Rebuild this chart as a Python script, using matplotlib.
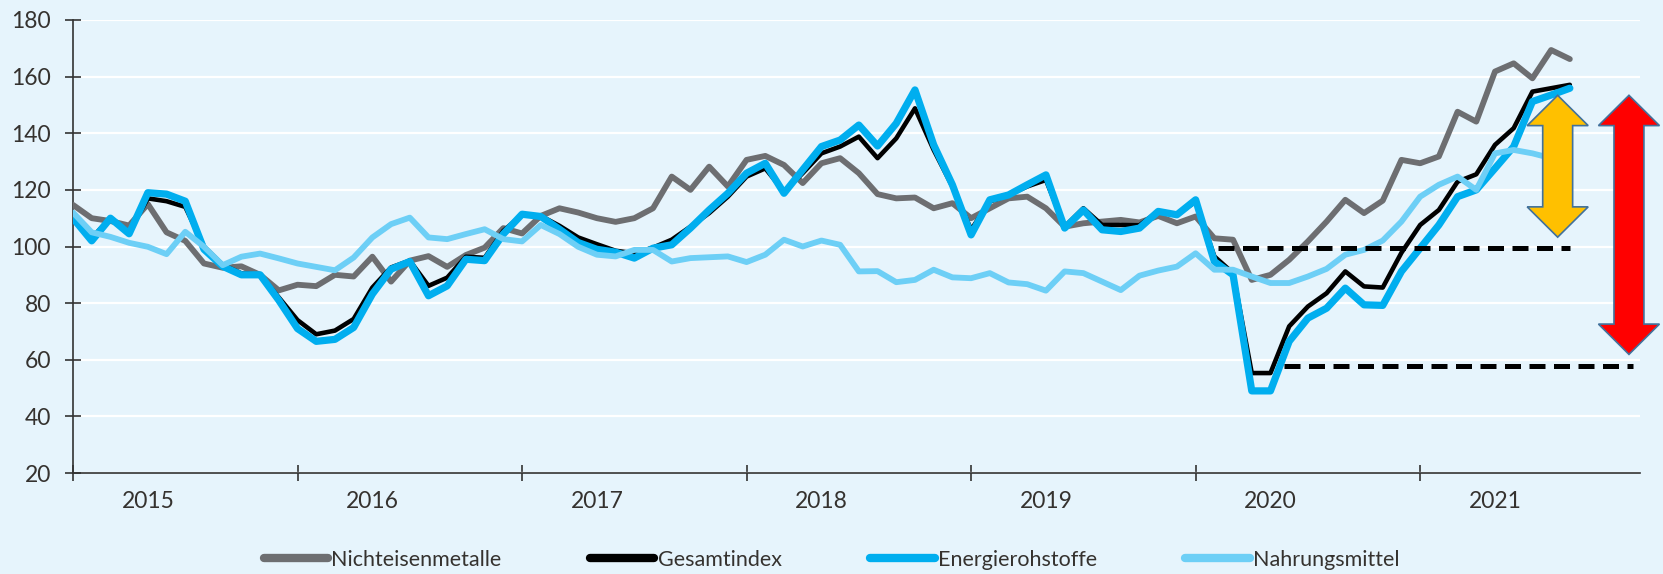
import matplotlib
matplotlib.use("Agg")
import matplotlib.pyplot as plt
from matplotlib.lines import Line2D
from matplotlib.patches import Polygon
import numpy as np

# ---------------- data (monthly index values, Jan 2015 .. Sep 2021) ----------------
nichteisenmetalle = [114.7, 110, 109, 107.4, 115, 105, 102, 94, 92.5, 93, 90, 84.5,
                     86.5, 86, 90, 89.4, 96.4, 87.6, 95, 96.6, 92.8, 97, 99.6, 106.5,
                     104.6, 110.8, 113.5, 112, 110, 108.7, 110, 113.5, 124.7, 120, 128.2, 121.2,
                     130.6, 132, 128.8, 122.4, 129.4, 131.2, 125.9, 118.5, 117, 117.3, 113.5, 115.3,
                     110, 113.5, 117, 117.6, 113.5, 107, 108.2, 108.8, 109.4, 108.5, 110.8, 108.2,
                     110.6, 102.9, 102.4, 88.2, 90, 95.3, 101.8, 108.8, 116.5, 111.8, 116.2, 130.6,
                     129.4, 131.8, 147.6, 144.1, 161.8, 164.7, 159.4, 169.4, 166.2]
gesamtindex = [110, 103, 110, 105, 117, 116, 114, 100, 93.5, 90.5, 90, 82,
               74, 69, 70.3, 74.4, 85.5, 92.6, 95, 86.1, 89, 96.4, 96, 105.5,
               111.2, 110.8, 107.3, 103.2, 100.8, 98.5, 97.6, 99.6, 102.4, 107, 111.8, 117.6,
               124.7, 127.6, 119.4, 125.9, 132.9, 135.3, 138.8, 131.2, 138.2, 148.8, 134.1, 121.2,
               105.9, 115.9, 118.2, 121.2, 123.5, 107, 113.5, 107.6, 107.6, 107.5, 112.4, 111.2,
               115.9, 96.5, 90.6, 55.3, 55.3, 71.8, 78.8, 83.5, 91.2, 85.9, 85.5, 97.8,
               107.6, 112.9, 122.9, 125.5, 135.9, 141.8, 154.7, 155.9, 157.1]
energierohstoffe = [110, 102, 110, 104.5, 119, 118.5, 116, 99, 93, 90, 90, 81,
                    71, 66.5, 67.2, 71.4, 83.2, 92, 94.7, 82.6, 86.1, 95.5, 95, 104.4,
                    111.4, 110.6, 106.1, 101.4, 99, 98, 95.9, 99.4, 100.6, 106.5, 112.9, 118.8,
                    125.9, 129.4, 118.8, 127.1, 135.3, 137.6, 142.9, 135.5, 143.5, 155.3, 135.9, 121.8,
                    104.1, 116.5, 118.2, 121.8, 125.3, 106.5, 112.9, 105.9, 105.3, 106.5, 112.4, 111.2,
                    116.5, 94.7, 90, 49, 49, 66.5, 74.7, 78.2, 85.3, 79.4, 79.2, 91.2,
                    99.4, 107.6, 117.6, 120, 127.6, 135.3, 151.2, 153.5, 155.9]
nahrungsmittel = [112, 105, 103.4, 101.3, 99.9, 97.3, 105.2, 99.9, 93.4, 96.4, 97.5, 95.8,
                  94, 92.8, 91.6, 96.1, 103.2, 107.9, 110.2, 103.2, 102.6, 104.4, 106.1, 102.6,
                  101.8, 107.6, 104.4, 99.9, 97.1, 96.5, 98.8, 98.8, 94.7, 95.9, 96.2, 96.5,
                  94.5, 97.1, 102.4, 100, 102.1, 100.6, 91.2, 91.3, 87.4, 88.2, 91.8, 89.1,
                  88.8, 90.6, 87.3, 86.7, 84.4, 91.2, 90.6, 87.6, 84.6, 89.7, 91.5, 92.9,
                  97.6, 91.8, 91.8, 89.4, 87.1, 87.1, 89.4, 92.1, 97.1, 98.8, 102.1, 108.8,
                  117.6, 121.8, 124.7, 120, 132.9, 134.1, 132.9, 131.2, 131.8]

years = ["2015", "2016", "2017", "2018", "2019", "2020", "2021"]
series_labels = ["Nichteisenmetalle", "Gesamtindex", "Energierohstoffe", "Nahrungsmittel"]
yticks = [20, 40, 60, 80, 100, 120, 140, 160, 180]

# annotation levels
level_pre = 99.3        # pre-crisis level (upper dashed line)
level_low = 57.7        # crisis low (lower dashed line)
arrow_top = 153.4
arrow_yellow_bottom = 103.3
arrow_red_bottom = 61.9

# ---------------- styling ----------------
bg = "#E6F4FC"
txt = "#35322F"
colors = ["#6D6E71", "#000000", "#00AEEF", "#6DCFF6"]
widths = [4.2, 3.3, 5.2, 4.2]

plt.rcParams["font.family"] = ["Lato", "DejaVu Sans"]

fig = plt.figure(figsize=(16.63, 5.74), dpi=100, facecolor=bg)
W, H = 1663, 574
ax = fig.add_axes([73 / W, 1 - 473 / H, (1640 - 73) / W, (473 - 20) / H])
ax.set_facecolor(bg)

x = np.arange(len(gesamtindex))
all_series = [nichteisenmetalle, gesamtindex, energierohstoffe, nahrungsmittel]
for s, c, lw, lab in zip(all_series, colors, widths, series_labels):
    ax.plot(x, s, color=c, lw=lw, solid_joinstyle="round", solid_capstyle="round",
            label=lab, zorder=3)

# dashed reference lines
ax.plot([61.2, 80], [level_pre, level_pre], color="black", lw=3.6, dashes=(3.2, 1.7),
        dash_capstyle="butt", zorder=4)
ax.plot([64.7, 83.4], [level_low, level_low], color="black", lw=3.6, dashes=(3.2, 1.7),
        dash_capstyle="butt", zorder=4, clip_on=False)


def double_arrow(xc, y0, y1, fc, shaft_hw=0.80, head_hw=1.63, head_len=10.7):
    verts = [(xc, y1), (xc + head_hw, y1 - head_len), (xc + shaft_hw, y1 - head_len),
             (xc + shaft_hw, y0 + head_len), (xc + head_hw, y0 + head_len), (xc, y0),
             (xc - head_hw, y0 + head_len), (xc - shaft_hw, y0 + head_len),
             (xc - shaft_hw, y1 - head_len), (xc - head_hw, y1 - head_len)]
    p = Polygon(verts, closed=True, facecolor=fc, edgecolor="#41719C", lw=1.2,
                zorder=6, clip_on=False)
    ax.add_patch(p)


double_arrow(79.35, arrow_yellow_bottom, arrow_top, "#FFC000")
double_arrow(83.16, arrow_red_bottom, arrow_top, "#FF0000")

# axes
ax.set_xlim(0, 83.75)
ax.set_ylim(20, 180)
ax.set_yticks(yticks)
ax.set_yticklabels([str(v) for v in yticks])
ax.set_xticks(np.arange(0, 84, 12))
ax.set_xticklabels([])
ax.set_xticks(np.arange(4, 84, 12), minor=True)
ax.set_xticklabels(years, minor=True)

ax.tick_params(axis="y", direction="inout", length=12, width=1.2, color="#333333",
               labelsize=16.5, labelcolor=txt, pad=10)
ax.tick_params(axis="x", which="major", direction="inout", length=12, width=1.2,
               color="#333333")
ax.tick_params(axis="x", which="minor", length=0, labelsize=16.5, labelcolor=txt, pad=13)

for sp in ["top", "right"]:
    ax.spines[sp].set_visible(False)
for sp in ["left", "bottom"]:
    ax.spines[sp].set_color("#333333")
    ax.spines[sp].set_linewidth(1.2)

ax.grid(axis="y", color="white", lw=1.6)
ax.set_axisbelow(True)

handles = [Line2D([0], [0], color=c, lw=6, solid_capstyle="round") for c in colors]
leg = fig.legend(handles, series_labels, loc="center", bbox_to_anchor=(0.5, 1 - 560 / H),
                 ncol=4, frameon=False, handlelength=3.0, handletextpad=0.15,
                 columnspacing=4.1, fontsize=15.5)
for t in leg.get_texts():
    t.set_color(txt)

fig.savefig("out.png", dpi=100, facecolor=bg)
